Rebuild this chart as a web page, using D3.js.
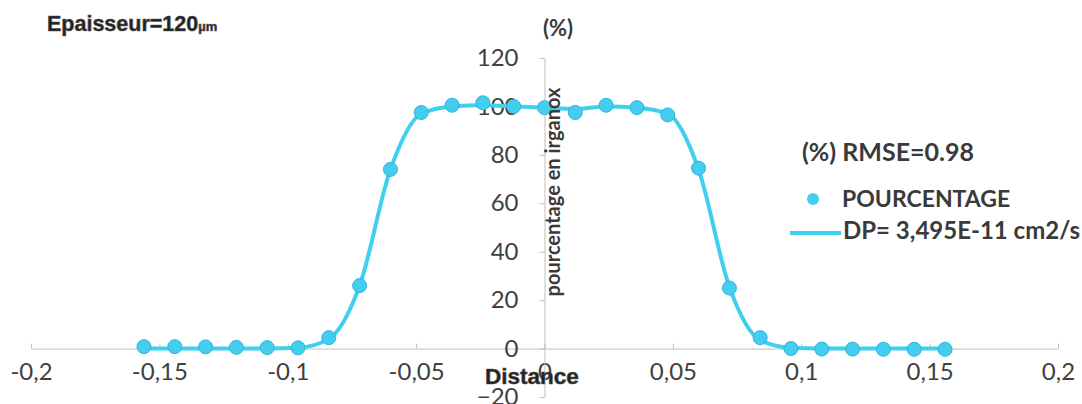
<!DOCTYPE html>
<html>
<head>
<meta charset="utf-8">
<script src="https://cdn.jsdelivr.net/npm/d3@7"></script>
<style>
  body { margin: 0; background: #fff; }
  .axis path, .axis line { stroke: #bfbfbf; }
  .axis text { font-family: Lato, sans-serif; font-size: 24px; fill: #404040; }
  .label { font-family: Lato, sans-serif; font-weight: bold; fill: #3a3a3a; }
  .heavy { font-family: "Liberation Sans", Arial, sans-serif; font-weight: bold; fill: #222;
           stroke: #555; stroke-width: 0.6px; }
</style>
</head>
<body>
<div id="chart"></div>
<script>
// distance (x) of each measured point
var distances = [-0.156, -0.144, -0.132, -0.120, -0.108, -0.096, -0.084, -0.072, -0.060,
                 -0.048, -0.036, -0.024, -0.012, 0, 0.012, 0.024, 0.036, 0.048, 0.060,
                 0.072, 0.084, 0.096, 0.108, 0.120, 0.132, 0.144, 0.156];
// POURCENTAGE (measured points)
var pourcentage = [0.8, 0.8, 0.7, 0.5, 0.4, 0.3, 4.5, 26, 74, 97.5, 100.5, 101.5, 100,
                   99.5, 97.5, 100.5, 99.5, 96.5, 74.5, 25, 4.5, 0, -0.2, -0.2, -0.3, -0.3, -0.3];
// DP fitted curve
var fitValues = [0, 0, 0, 0, 0, 0.3, 4, 26, 74, 97, 100, 100.5, 100,
                 99.5, 99, 100, 99.5, 97, 74, 25.5, 3.5, 0.3, 0, 0, 0, 0, 0];

var xTicks = [-0.2, -0.15, -0.1, -0.05, 0, 0.05, 0.1, 0.15, 0.2];
var yTicks = [-20, 0, 20, 40, 60, 80, 100, 120];

var width = 1082, height = 404;
var cyan = "#3fd0f0";

var svg = d3.select("#chart")
  .append("svg")
  .attr("width", width)
  .attr("height", height);

var x = d3.scaleLinear().domain([-0.2, 0.2]).range([31, 1058]);
var y = d3.scaleLinear().domain([-20, 120]).range([397, 58]);

function comma(d) {
  return d === 0 ? "0" : String(d).replace(".", ",");
}

// x axis (through y = 0)
svg.append("g")
  .attr("class", "axis")
  .attr("transform", "translate(0," + y(0) + ")")
  .call(d3.axisBottom(x)
    .tickValues(xTicks)
    .tickFormat(comma)
    .tickSize(-5)
    .tickSizeOuter(0)
    .tickPadding(14));

// y axis (through x = 0)
svg.append("g")
  .attr("class", "axis")
  .attr("transform", "translate(" + x(0) + ",0)")
  .call(d3.axisLeft(y)
    .tickValues(yTicks)
    .tickSize(5)
    .tickSizeOuter(0)
    .tickPadding(21));

// fitted line
var line = d3.line()
  .x((d, i) => x(distances[i]))
  .y(d => y(d))
  .curve(d3.curveMonotoneX);

svg.append("path")
  .datum(fitValues)
  .attr("fill", "none")
  .attr("stroke", cyan)
  .attr("stroke-width", 4)
  .attr("d", line);

// measured points
svg.selectAll(".dot")
  .data(pourcentage)
  .enter()
  .append("circle")
  .attr("class", "dot")
  .attr("r", 7)
  .attr("cx", (d, i) => x(distances[i]))
  .attr("cy", d => y(d))
  .style("fill", "#45cdef")
  .style("stroke", "#2cb5de")
  .style("stroke-width", 1);

// titles
var title = svg.append("text")
  .attr("class", "heavy")
  .attr("x", 47)
  .attr("y", 31)
  .style("font-size", "21.5px")
  .text("Epaisseur=120");
title.append("tspan")
  .style("font-size", "13px")
  .text("µm");

svg.append("text")
  .attr("class", "label")
  .attr("x", 558)
  .attr("y", 36)
  .style("text-anchor", "middle")
  .style("font-size", "22px")
  .text("(%)");

// y axis label
svg.append("text")
  .attr("class", "label")
  .attr("transform", "translate(560," + 192 + ") rotate(-90)")
  .style("text-anchor", "middle")
  .style("font-size", "20px")
  .text("pourcentage en irganox");

// x axis label
svg.append("text")
  .attr("class", "heavy")
  .attr("x", 532)
  .attr("y", 384)
  .style("text-anchor", "middle")
  .style("font-size", "22.5px")
  .text("Distance");

// legend
svg.append("text")
  .attr("class", "label")
  .attr("x", 802)
  .attr("y", 161)
  .style("font-size", "25px")
  .text("(%) RMSE=0.98");

svg.append("circle")
  .attr("cx", 813)
  .attr("cy", 199)
  .attr("r", 6)
  .style("fill", "#45cdef");

svg.append("text")
  .attr("class", "label")
  .attr("x", 842)
  .attr("y", 207)
  .style("font-size", "23px")
  .text("POURCENTAGE");

svg.append("line")
  .attr("x1", 790).attr("x2", 841)
  .attr("y1", 233).attr("y2", 233)
  .attr("stroke", cyan)
  .attr("stroke-width", 4);

svg.append("text")
  .attr("class", "label")
  .attr("x", 843)
  .attr("y", 239)
  .style("font-size", "24px")
  .text("DP= 3,495E-11 cm2/s");
</script>
</body>
</html>
